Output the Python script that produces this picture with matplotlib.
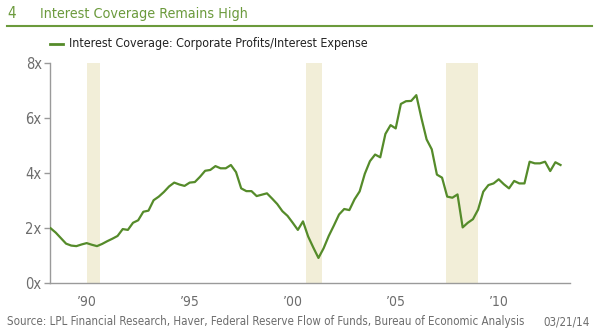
import numpy as np
import pandas as pd
import matplotlib
matplotlib.use('Agg')
import matplotlib.pyplot as plt

# quarterly interest coverage, 1988Q4 - 2013Q3
start_year = 1988.75
coverage = [1.98, 1.82, 1.62, 1.42, 1.35, 1.33, 1.39, 1.44, 1.38, 1.33,
            1.41, 1.51, 1.60, 1.70, 1.95, 1.92, 2.18, 2.27, 2.58, 2.62,
            3.00, 3.13, 3.30, 3.50, 3.64, 3.57, 3.52, 3.64, 3.66, 3.85,
            4.07, 4.10, 4.24, 4.16, 4.16, 4.28, 4.02, 3.43, 3.33, 3.33,
            3.15, 3.20, 3.25, 3.06, 2.86, 2.60, 2.43, 2.18, 1.92, 2.23,
            1.68, 1.28, 0.90, 1.25, 1.70, 2.08, 2.48, 2.68, 2.64, 3.03,
            3.32, 3.96, 4.42, 4.66, 4.56, 5.41, 5.73, 5.61, 6.50, 6.60,
            6.61, 6.82, 5.98, 5.21, 4.85, 3.93, 3.82, 3.13, 3.09, 3.21,
            2.01, 2.18, 2.31, 2.66, 3.31, 3.55, 3.61, 3.76, 3.58, 3.43,
            3.70, 3.61, 3.61, 4.40, 4.34, 4.34, 4.40, 4.06, 4.38, 4.28]
dates = start_year + 0.25 * np.arange(len(coverage))

# recessions (decimal years)
rec_start = [1990.5, 2001.17, 2007.92]
rec_end = [1991.17, 2001.9, 2009.5]

years = [1990, 1995, 2000, 2005, 2010]
year_labels = ["\u201990", "\u201995", "\u201900", "\u201905", "\u201910"]

green_title = '#6b9a3c'
green_line = '#558b2a'
band = '#f2eed8'
grey = '#6d6d6d'

plt.rcParams['font.family'] = ['Liberation Sans Narrow', 'DejaVu Sans']
plt.rcParams['font.stretch'] = 'condensed'

fig = plt.figure(figsize=(6, 3.36), dpi=100)
ax = fig.add_axes([50/600, 1-282.7/336, 520/600, 220/336])

for s, e in zip(rec_start, rec_end):
    ax.axvspan(s, e, color=band, lw=0, zorder=0)

ax.plot(dates, coverage, color=green_line, lw=1.6, zorder=3)

ax.set_xlim(1988.72, 2013.96)
ax.set_ylim(0, 8)
ax.set_yticks([0, 2, 4, 6, 8])
ax.set_yticklabels(['0x', '2x', '4x', '6x', '8x'])
ax.set_xticks([y + 0.5 for y in years])
ax.set_xticklabels(year_labels)
for sp in ['top', 'right']:
    ax.spines[sp].set_visible(False)
for sp in ['left', 'bottom']:
    ax.spines[sp].set_color('#9a9a9a')
    ax.spines[sp].set_linewidth(1.0)
ax.tick_params(axis='y', length=4, width=1, color='#9a9a9a', labelcolor=grey,
               labelsize=10.5, pad=2)
ax.tick_params(axis='x', length=0, labelcolor=grey, labelsize=10, pad=9)

# title
fig.text(7/600, 1-14/336, '4', color=green_title, fontsize=11, va='center')
fig.text(40/600, 1-14/336, 'Interest Coverage Remains High', color=green_title,
         fontsize=10.3, va='center')
fig.add_artist(plt.Line2D([7/600, 592/600], [1-26/336, 1-26/336],
                          color=green_title, lw=1.5))

# legend
fig.add_artist(plt.Line2D([50/600, 63/600], [1-44/336, 1-44/336],
                          color=green_line, lw=2))
fig.text(69/600, 1-44/336, 'Interest Coverage: Corporate Profits/Interest Expense',
         color='#222222', fontsize=8.9, va='center')

# source
fig.text(7/600, 1-322/336,
         'Source: LPL Financial Research, Haver, Federal Reserve Flow of Funds, '
         'Bureau of Economic Analysis',
         color=grey, fontsize=8.3, va='center')
fig.text(590/600, 1-322/336, '03/21/14', color=grey, fontsize=8.3,
         va='center', ha='right')

plt.savefig('out.png', dpi=100)
